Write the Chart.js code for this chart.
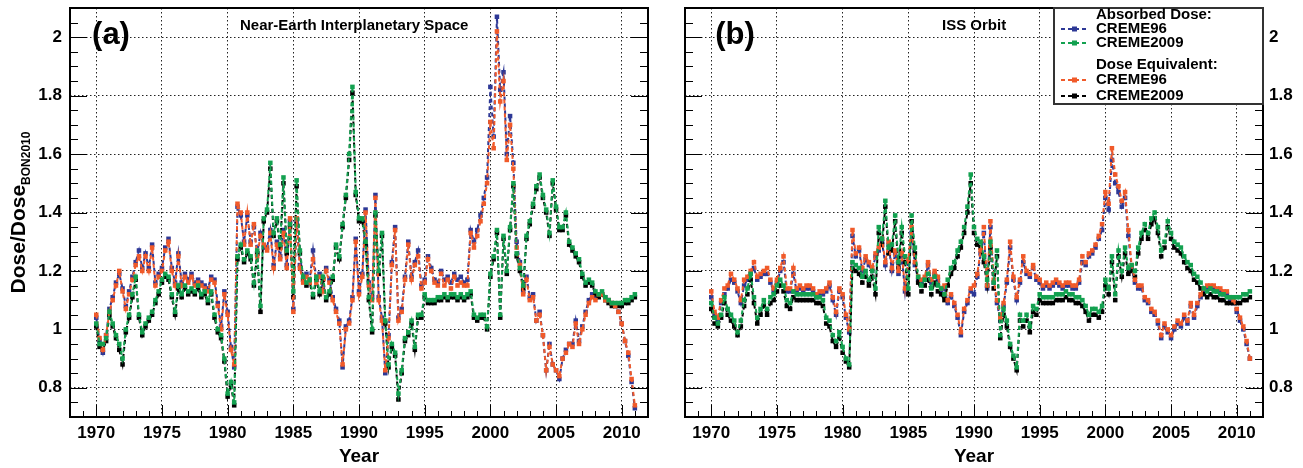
<!DOCTYPE html>
<html>
<head>
<meta charset="utf-8">
<script src="https://cdn.jsdelivr.net/npm/chart.js@4.4.0/dist/chart.umd.min.js"></script>
<style>
  html, body { margin: 0; padding: 0; background: #fff; }
  #wrap { position: relative; width: 1303px; height: 468px; }
  .pane { position: absolute; top: 0; height: 468px; }
  #pa { left: 0; width: 660px; }
  #pb { left: 660px; width: 643px; }
</style>
</head>
<body>
<div id="wrap">
  <div class="pane" id="pa"><canvas id="chartA"></canvas></div>
  <div class="pane" id="pb"><canvas id="chartB"></canvas></div>
</div>
<script>
// quarterly samples, 1970.00 .. 2011.00
const START_YEAR = 1970;
const STEP = 0.25;

const X_TICKS = [1970, 1975, 1980, 1985, 1990, 1995, 2000, 2005, 2010];
const Y_TICKS = [0.8, 1, 1.2, 1.4, 1.6, 1.8, 2];

// (a) near-earth interplanetary space
const nearAbsorbed96 = [
  1.04, 0.96, 0.92, 0.98,  1.07, 1.11, 1.16, 1.19,  1.14, 1.08, 1.13, 1.18,  1.23, 1.27, 1.21, 1.26,
  1.21, 1.29, 1.16, 1.19,  1.21, 1.28, 1.31, 1.21,  1.16, 1.26, 1.16, 1.19,  1.17, 1.19, 1.16, 1.17,
  1.16, 1.15, 1.14, 1.18,  1.17, 1.09, 1.01, 1.13,  1.06, 0.94, 0.87, 1.42,  1.39, 1.30, 1.39, 1.30,
  1.35, 1.26, 1.33, 1.28,  1.28, 1.34, 1.22, 1.30,  1.25, 1.34, 1.22, 1.37,  1.07, 1.37, 1.22, 1.17,
  1.19, 1.17, 1.27, 1.17,  1.19, 1.14, 1.21, 1.17,  1.11, 1.07, 1.03, 0.87,  1.01, 1.03, 1.11, 1.31,
  1.13, 1.19, 1.41, 1.16,  1.11, 1.46, 1.11, 1.04,  0.85, 0.98, 1.23, 1.35,  1.04, 1.07, 1.18, 1.30,
  1.18, 1.23, 1.27, 1.15,  1.17, 1.25, 1.21, 1.17,  1.16, 1.20, 1.17, 1.18,  1.16, 1.19, 1.17, 1.18,
  1.16, 1.17, 1.34, 1.30,  1.34, 1.39, 1.45, 1.52,  1.83, 1.66, 2.07, 1.82,  1.88, 1.60, 1.73, 1.57,
  1.30, 1.23, 1.13, 1.18,  1.11, 1.12, 1.03, 1.06,  0.98, 0.86, 0.95, 0.88,  0.86, 0.83, 0.90, 0.93,
  0.95, 0.95, 1.03, 0.96,  1.01, 1.06, 1.10, 1.12,  1.11, 1.12, 1.12, 1.11,  1.10, 1.09, 1.08, 1.06,
  1.02, 0.96, 0.91, 0.82,  0.73
];
const nearAbsorbed09 = [
  1.02, 0.95, 0.95, 0.97,  1.06, 1.02, 0.98, 0.95,  0.90, 1.00, 1.05, 1.12,  1.18, 1.05, 0.99, 1.02,
  1.04, 1.06, 1.10, 1.13,  1.17, 1.19, 1.18, 1.12,  1.06, 1.15, 1.12, 1.15,  1.13, 1.14, 1.13, 1.15,
  1.12, 1.13, 1.10, 1.13,  1.05, 1.00, 0.98, 0.90,  0.78, 0.82, 0.75, 1.25,  1.29, 1.24, 1.27, 1.25,
  1.16, 1.27, 1.08, 1.38,  1.41, 1.57, 1.33, 1.38,  1.29, 1.52, 1.27, 1.36,  1.13, 1.51, 1.27, 1.18,
  1.16, 1.17, 1.12, 1.18,  1.13, 1.18, 1.11, 1.13,  1.18, 1.29, 1.25, 1.36,  1.46, 1.60, 1.83, 1.47,
  1.38, 1.38, 1.30, 1.11,  1.00, 1.40, 1.20, 1.33,  1.03, 0.88, 0.95, 0.92,  0.78, 0.86, 0.97, 0.99,
  1.03, 0.94, 1.05, 1.05,  1.12, 1.10, 1.10, 1.10,  1.11, 1.11, 1.12, 1.11,  1.12, 1.12, 1.11, 1.12,
  1.11, 1.12, 1.13, 1.05,  1.04, 1.05, 1.05, 1.01,  1.19, 1.25, 1.34, 1.05,  1.32, 1.20, 1.35, 1.50,
  1.26, 1.21, 1.15, 1.32,  1.37, 1.43, 1.49, 1.53,  1.46, 1.41, 1.33, 1.51,  1.42, 1.35, 1.35, 1.40,
  1.30, 1.28, 1.26, 1.24,  1.19, 1.16, 1.17, 1.16,  1.13, 1.12, 1.13, 1.11,  1.10, 1.09, 1.09, 1.09,
  1.09, 1.10, 1.10, 1.11,  1.12
];
const nearEquiv96 = [
  1.05, 0.97, 0.93, 0.98,  1.06, 1.10, 1.15, 1.20,  1.13, 1.07, 1.12, 1.17,  1.22, 1.25, 1.20, 1.25,
  1.20, 1.28, 1.15, 1.18,  1.20, 1.27, 1.30, 1.20,  1.15, 1.25, 1.15, 1.18,  1.16, 1.18, 1.15, 1.16,
  1.15, 1.14, 1.13, 1.17,  1.16, 1.08, 1.00, 1.12,  1.05, 0.93, 0.88, 1.43,  1.40, 1.29, 1.40, 1.29,
  1.36, 1.25, 1.32, 1.29,  1.27, 1.33, 1.21, 1.29,  1.24, 1.33, 1.21, 1.38,  1.06, 1.38, 1.21, 1.16,
  1.18, 1.16, 1.24, 1.16,  1.18, 1.13, 1.20, 1.16,  1.10, 1.06, 1.02, 0.88,  1.00, 1.02, 1.10, 1.30,
  1.12, 1.18, 1.40, 1.15,  1.10, 1.45, 1.10, 1.03,  0.86, 0.97, 1.22, 1.34,  1.03, 1.06, 1.17, 1.29,
  1.17, 1.22, 1.25, 1.14,  1.16, 1.24, 1.20, 1.16,  1.15, 1.19, 1.15, 1.17,  1.14, 1.18, 1.15, 1.16,
  1.15, 1.15, 1.33, 1.28,  1.32, 1.37, 1.43, 1.50,  1.71, 1.62, 2.02, 1.78,  1.85, 1.58, 1.70, 1.55,
  1.28, 1.22, 1.12, 1.17,  1.10, 1.11, 1.03, 1.05,  0.98, 0.86, 0.94, 0.88,  0.86, 0.84, 0.90, 0.92,
  0.95, 0.94, 1.02, 0.95,  1.00, 1.05, 1.09, 1.11,  1.10, 1.12, 1.12, 1.10,  1.10, 1.09, 1.08, 1.06,
  1.02, 0.96, 0.92, 0.83,  0.74
];
const nearEquiv09 = [
  1.01, 0.94, 0.93, 0.96,  1.05, 1.01, 0.97, 0.93,  0.88, 0.99, 1.04, 1.11,  1.17, 1.04, 0.98, 1.01,
  1.03, 1.05, 1.09, 1.12,  1.16, 1.18, 1.17, 1.11,  1.05, 1.14, 1.11, 1.14,  1.12, 1.13, 1.12, 1.14,
  1.11, 1.12, 1.09, 1.12,  1.04, 0.99, 0.97, 0.89,  0.77, 0.81, 0.74, 1.24,  1.28, 1.23, 1.26, 1.24,
  1.15, 1.26, 1.06, 1.37,  1.40, 1.55, 1.32, 1.37,  1.28, 1.50, 1.26, 1.35,  1.11, 1.49, 1.26, 1.17,
  1.15, 1.16, 1.11, 1.17,  1.12, 1.17, 1.10, 1.12,  1.17, 1.28, 1.24, 1.35,  1.45, 1.58, 1.81, 1.46,
  1.37, 1.37, 1.29, 1.10,  0.99, 1.39, 1.19, 1.32,  1.02, 0.87, 0.94, 0.91,  0.76, 0.85, 0.96, 0.98,
  1.02, 0.93, 1.04, 1.04,  1.11, 1.09, 1.09, 1.09,  1.10, 1.10, 1.11, 1.10,  1.11, 1.11, 1.10, 1.11,
  1.10, 1.11, 1.12, 1.04,  1.03, 1.04, 1.04, 1.00,  1.18, 1.24, 1.33, 1.04,  1.31, 1.19, 1.34, 1.49,
  1.25, 1.20, 1.14, 1.31,  1.36, 1.42, 1.48, 1.52,  1.45, 1.40, 1.32, 1.50,  1.41, 1.34, 1.34, 1.39,
  1.29, 1.27, 1.25, 1.23,  1.18, 1.15, 1.16, 1.15,  1.12, 1.11, 1.12, 1.10,  1.09, 1.08, 1.08, 1.08,
  1.08, 1.09, 1.09, 1.10,  1.11
];

// (b) ISS orbit
const issAbsorbed96 = [
  1.11, 1.05, 1.03, 1.09,  1.12, 1.14, 1.17, 1.16,  1.13, 1.09, 1.15, 1.17,  1.19, 1.21, 1.17, 1.18,
  1.19, 1.19, 1.16, 1.13,  1.16, 1.20, 1.23, 1.13,  1.13, 1.19, 1.13, 1.14,  1.13, 1.14, 1.14, 1.13,
  1.11, 1.12, 1.12, 1.13,  1.15, 1.10, 1.05, 1.13,  1.11, 1.04, 0.99, 1.32,  1.25, 1.27, 1.20, 1.24,
  1.22, 1.20, 1.25, 1.27,  1.30, 1.22, 1.29, 1.20,  1.26, 1.19, 1.25, 1.13,  1.23, 1.33, 1.22, 1.17,
  1.16, 1.17, 1.22, 1.16,  1.19, 1.17, 1.13, 1.14,  1.09, 1.11, 1.08, 1.04,  0.98, 1.06, 1.09, 1.13,
  1.12, 1.18, 1.26, 1.33,  1.14, 1.35, 1.16, 1.09,  1.03, 1.08, 1.16, 1.28,  1.17, 1.10, 1.16, 1.23,
  1.19, 1.18, 1.21, 1.17,  1.16, 1.14, 1.15, 1.14,  1.15, 1.16, 1.15, 1.14,  1.15, 1.15, 1.14, 1.14,
  1.16, 1.23, 1.22, 1.25,  1.26, 1.28, 1.31, 1.34,  1.45, 1.41, 1.58, 1.50,  1.47, 1.42, 1.45, 1.32,
  1.21, 1.16, 1.14, 1.14,  1.10, 1.09, 1.06, 1.05,  1.02, 0.97, 1.01, 0.99,  0.97, 1.00, 1.02, 1.01,
  1.04, 1.02, 1.08, 1.04,  1.08, 1.11, 1.13, 1.14,  1.14, 1.14, 1.13, 1.13,  1.12, 1.12, 1.10, 1.09,
  1.06, 1.03, 1.00, 0.95,  0.90
];
const issAbsorbed09 = [
  1.09, 1.04, 1.02, 1.05,  1.11, 1.07, 1.05, 1.03,  0.99, 1.03, 1.10, 1.14,  1.19, 1.11, 1.04, 1.07,
  1.10, 1.07, 1.11, 1.12,  1.15, 1.17, 1.15, 1.10,  1.09, 1.13, 1.12, 1.12,  1.12, 1.12, 1.12, 1.12,
  1.11, 1.11, 1.10, 1.04,  1.03, 0.98, 0.96, 0.99,  0.94, 0.90, 0.88, 1.23,  1.22, 1.21, 1.18, 1.20,
  1.17, 1.20, 1.14, 1.35,  1.31, 1.44, 1.28, 1.29,  1.39, 1.23, 1.35, 1.25,  1.14, 1.39, 1.28, 1.18,
  1.15, 1.17, 1.19, 1.14,  1.18, 1.15, 1.14, 1.12,  1.17, 1.21, 1.23, 1.27,  1.30, 1.35, 1.42, 1.53,
  1.35, 1.31, 1.30, 1.25,  1.17, 1.30, 1.16, 1.27,  0.98, 1.07, 1.03, 0.95,  0.91, 0.87, 1.05, 1.03,
  1.05, 1.01, 1.08, 1.07,  1.12, 1.11, 1.11, 1.11,  1.11, 1.12, 1.12, 1.12,  1.13, 1.12, 1.12, 1.11,
  1.11, 1.10, 1.08, 1.05,  1.07, 1.07, 1.06, 1.08,  1.17, 1.14, 1.25, 1.12,  1.27, 1.20, 1.28, 1.21,
  1.22, 1.20, 1.28, 1.33,  1.36, 1.33, 1.38, 1.40,  1.35, 1.27, 1.30, 1.37,  1.33, 1.30, 1.29, 1.28,
  1.25, 1.23, 1.22, 1.19,  1.18, 1.16, 1.14, 1.13,  1.14, 1.13, 1.13, 1.12,  1.12, 1.11, 1.11, 1.11,
  1.11, 1.11, 1.12, 1.12,  1.13
];
const issEquiv96 = [
  1.13, 1.06, 1.04, 1.10,  1.14, 1.15, 1.19, 1.17,  1.14, 1.10, 1.17, 1.18,  1.20, 1.23, 1.18, 1.19,
  1.20, 1.21, 1.17, 1.14,  1.17, 1.21, 1.25, 1.14,  1.14, 1.21, 1.14, 1.15,  1.14, 1.15, 1.15, 1.14,
  1.12, 1.13, 1.13, 1.14,  1.16, 1.11, 1.06, 1.14,  1.12, 1.05, 1.00, 1.34,  1.26, 1.28, 1.21, 1.25,
  1.23, 1.21, 1.26, 1.28,  1.31, 1.23, 1.30, 1.21,  1.27, 1.20, 1.26, 1.14,  1.24, 1.35, 1.23, 1.18,
  1.17, 1.18, 1.23, 1.17,  1.20, 1.18, 1.14, 1.15,  1.10, 1.12, 1.09, 1.05,  0.99, 1.07, 1.10, 1.14,
  1.15, 1.19, 1.27, 1.35,  1.15, 1.37, 1.17, 1.10,  1.04, 1.09, 1.17, 1.30,  1.18, 1.11, 1.17, 1.25,
  1.20, 1.19, 1.22, 1.18,  1.17, 1.15, 1.16, 1.15,  1.16, 1.17, 1.16, 1.15,  1.16, 1.16, 1.15, 1.15,
  1.17, 1.25, 1.23, 1.26,  1.27, 1.29, 1.32, 1.36,  1.47, 1.43, 1.62, 1.53,  1.49, 1.44, 1.47, 1.34,
  1.22, 1.17, 1.15, 1.15,  1.11, 1.10, 1.07, 1.06,  1.03, 0.98, 1.02, 1.00,  0.98, 1.01, 1.03, 1.02,
  1.05, 1.03, 1.09, 1.05,  1.09, 1.12, 1.14, 1.15,  1.15, 1.15, 1.14, 1.14,  1.13, 1.13, 1.11, 1.10,
  1.07, 1.04, 1.01, 0.96,  0.90
];
const issEquiv09 = [
  1.07, 1.02, 1.01, 1.04,  1.09, 1.05, 1.03, 1.01,  0.98, 1.01, 1.08, 1.12,  1.17, 1.09, 1.02, 1.05,
  1.08, 1.05, 1.09, 1.10,  1.13, 1.15, 1.13, 1.08,  1.07, 1.11, 1.10, 1.10,  1.10, 1.10, 1.10, 1.10,
  1.09, 1.09, 1.08, 1.02,  1.01, 0.96, 0.94, 0.97,  0.92, 0.89, 0.87, 1.21,  1.20, 1.19, 1.16, 1.18,
  1.15, 1.18, 1.12, 1.33,  1.29, 1.42, 1.26, 1.27,  1.37, 1.21, 1.33, 1.23,  1.12, 1.37, 1.26, 1.16,
  1.13, 1.15, 1.17, 1.12,  1.16, 1.13, 1.12, 1.10,  1.15, 1.19, 1.21, 1.25,  1.28, 1.33, 1.40, 1.50,
  1.33, 1.29, 1.28, 1.23,  1.15, 1.28, 1.14, 1.25,  0.97, 1.05, 1.01, 0.94,  0.90, 0.86, 1.03, 1.01,
  1.03, 0.99, 1.06, 1.05,  1.10, 1.09, 1.09, 1.09,  1.09, 1.10, 1.10, 1.10,  1.11, 1.10, 1.10, 1.09,
  1.09, 1.08, 1.06, 1.03,  1.05, 1.05, 1.04, 1.06,  1.15, 1.12, 1.23, 1.10,  1.25, 1.18, 1.26, 1.19,
  1.20, 1.18, 1.26, 1.31,  1.34, 1.31, 1.36, 1.38,  1.33, 1.25, 1.28, 1.35,  1.31, 1.28, 1.27, 1.26,
  1.23, 1.21, 1.20, 1.17,  1.16, 1.14, 1.12, 1.11,  1.12, 1.11, 1.11, 1.10,  1.10, 1.09, 1.09, 1.09,
  1.09, 1.09, 1.10, 1.10,  1.11
];

const COL_BLUE = "#2d3896";
const COL_GREEN = "#13a150";
const COL_ORANGE = "#f05a2a";
const COL_BLACK = "#000000";
const FONT = "'Liberation Sans', Arial, sans-serif";

// turn a value list into x/y points on the quarterly grid
function toPoints(vals) {
    return vals.map((v, i) => ({ x: START_YEAR + i * STEP, y: v }));
}

function series(label, vals, color) {
    return {
        label: label,
        data: toPoints(vals),
        borderColor: color,
        backgroundColor: color,
        borderWidth: 2,
        borderDash: [4, 3],
        pointStyle: "rect",
        pointRadius: 3.2,
        pointBorderWidth: 0,
        tension: 0
    };
}

// frame, inside ticks, panel texts and legend
const decorPlugin = {
    id: "decor",
    afterDraw(chart, args, opts) {
        const ctx = chart.ctx;
        const a = chart.chartArea;
        const xs = chart.scales.x, ys = chart.scales.y;
        ctx.save();
        ctx.strokeStyle = "#000";
        ctx.lineWidth = 1;

        // y ticks, both sides
        for (let k = 0; k <= 28; k++) {
            const v = 0.7 + k * 0.05;
            const major = Math.abs(v / 0.2 - Math.round(v / 0.2)) < 1e-6;
            const len = major ? 17 : 8;
            const py = Math.round(ys.getPixelForValue(v)) + 0.5;
            ctx.beginPath();
            ctx.moveTo(a.left, py); ctx.lineTo(a.left + len, py);
            ctx.moveTo(a.right, py); ctx.lineTo(a.right - len, py);
            ctx.stroke();
        }
        // x ticks, bottom
        for (let yr = 1968; yr <= 2012; yr++) {
            const len = yr % 5 === 0 ? 12 : 6;
            const px = Math.round(xs.getPixelForValue(yr)) + 0.5;
            ctx.beginPath();
            ctx.moveTo(px, a.bottom); ctx.lineTo(px, a.bottom - len);
            ctx.stroke();
        }

        // frame
        ctx.lineWidth = 2;
        ctx.strokeRect(a.left, a.top, a.right - a.left, a.bottom - a.top);

        // panel tag and title
        ctx.fillStyle = "#000";
        ctx.textBaseline = "middle";
        ctx.textAlign = "center";
        ctx.font = "bold 31px " + FONT;
        ctx.fillText(opts.tag, a.left + opts.tagDx, a.top + 27);
        ctx.textAlign = "left";
        ctx.font = "bold 15px " + FONT;
        ctx.fillText(opts.title, a.left + opts.titleDx, a.top + 18);

        // y axis title with subscript
        if (opts.yTitle) {
            ctx.save();
            ctx.translate(25, (a.top + a.bottom) / 2);
            ctx.rotate(-Math.PI / 2);
            ctx.textBaseline = "alphabetic";
            ctx.font = "bold 21px " + FONT;
            const w1 = ctx.measureText("Dose/Dose").width;
            ctx.font = "bold 12px " + FONT;
            const w2 = ctx.measureText("BON2010").width;
            const x0 = -(w1 + w2) / 2;
            ctx.font = "bold 21px " + FONT;
            ctx.fillText("Dose/Dose", x0, 0);
            ctx.font = "bold 12px " + FONT;
            ctx.fillText("BON2010", x0 + w1, 5);
            ctx.restore();
        }

        // legend box
        if (opts.legend) {
            const bx = a.right - 209, by = a.top, bw = 209, bh = 96;
            ctx.fillStyle = "#fff";
            ctx.fillRect(bx, by, bw, bh);
            ctx.strokeStyle = "#333";
            ctx.lineWidth = 2;
            ctx.strokeRect(bx, by, bw, bh);
            const tx = bx + 42;
            const rows = [
                { text: "Absorbed Dose:", y: 7 },
                { text: "CREME96", y: 21, color: COL_BLUE },
                { text: "CREME2009", y: 35, color: COL_GREEN },
                { text: "Dose Equivalent:", y: 57 },
                { text: "CREME96", y: 72, color: COL_ORANGE },
                { text: "CREME2009", y: 88, color: COL_BLACK }
            ];
            ctx.font = "bold 15px " + FONT;
            ctx.textBaseline = "middle";
            rows.forEach(r => {
                const ry = by + r.y;
                if (r.color) {
                    ctx.strokeStyle = r.color;
                    ctx.fillStyle = r.color;
                    ctx.lineWidth = 2;
                    ctx.setLineDash([4, 3]);
                    ctx.beginPath();
                    ctx.moveTo(bx + 7, ry); ctx.lineTo(bx + 34, ry);
                    ctx.stroke();
                    ctx.setLineDash([]);
                    ctx.fillRect(bx + 18, ry - 2.5, 5, 5);
                }
                ctx.fillStyle = "#000";
                ctx.fillText(r.text, tx, ry);
            });
        }
        ctx.restore();
    }
};

function makeChart(canvasId, sets, cfg) {
    return new Chart(document.getElementById(canvasId), {
        type: "line",
        data: {
            datasets: [
                series("CREME2009 (absorbed)", sets.absorbed09, COL_GREEN),
                series("CREME96 (dose equivalent)", sets.equiv96, COL_ORANGE),
                series("CREME2009 (dose equivalent)", sets.equiv09, COL_BLACK),
                series("CREME96 (absorbed)", sets.absorbed96, COL_BLUE)
            ]
        },
        options: {
            responsive: true,
            maintainAspectRatio: false,
            animation: false,
            layout: { padding: cfg.padding },
            plugins: {
                legend: { display: false },
                tooltip: { enabled: false },
                decor: cfg.decor
            },
            scales: {
                x: {
                    type: "linear",
                    min: 1968, max: 2012,
                    afterBuildTicks: s => { s.ticks = X_TICKS.map(v => ({ value: v })); },
                    afterFit: s => { s.height = 51; s.paddingLeft = 0; s.paddingRight = 0; },
                    grid: { color: "#222", lineWidth: 1, drawTicks: false },
                    border: { display: false, dash: [1.5, 2.5] },
                    ticks: {
                        color: "#000", padding: 6, maxRotation: 0,
                        font: { family: FONT, size: 17, weight: "bold" },
                        callback: v => String(v)
                    },
                    title: {
                        display: true, text: "Year", color: "#000",
                        font: { family: FONT, size: 19, weight: "bold" },
                        padding: { top: 0, bottom: 0 }
                    }
                },
                y: {
                    type: "linear",
                    position: cfg.yPos,
                    min: 0.7, max: 2.1,
                    afterBuildTicks: s => { s.ticks = Y_TICKS.map(v => ({ value: v })); },
                    afterFit: s => { s.width = cfg.yWidth; s.paddingTop = 0; s.paddingBottom = 0; },
                    grid: { color: "#222", lineWidth: 1, drawTicks: false },
                    border: { display: false, dash: [1.5, 2.5] },
                    ticks: {
                        color: "#000", padding: cfg.yPad,
                        font: { family: FONT, size: 17, weight: "bold" },
                        callback: v => String(v)
                    }
                }
            }
        },
        plugins: [decorPlugin]
    });
}

makeChart("chartA", {
    absorbed96: nearAbsorbed96, absorbed09: nearAbsorbed09,
    equiv96: nearEquiv96, equiv09: nearEquiv09
}, {
    padding: { left: 0, right: 12, top: 8, bottom: 0 },
    yPos: "left", yWidth: 70, yPad: 8,
    decor: { tag: "(a)", tagDx: 41, title: "Near-Earth Interplanetary Space", titleDx: 170, yTitle: true, legend: false }
});

makeChart("chartB", {
    absorbed96: issAbsorbed96, absorbed09: issAbsorbed09,
    equiv96: issEquiv96, equiv09: issEquiv09
}, {
    padding: { left: 25, right: 0, top: 8, bottom: 0 },
    yPos: "right", yWidth: 40, yPad: 6,
    decor: { tag: "(b)", tagDx: 50, title: "ISS Orbit", titleDx: 257, yTitle: false, legend: true }
});
</script>
</body>
</html>
